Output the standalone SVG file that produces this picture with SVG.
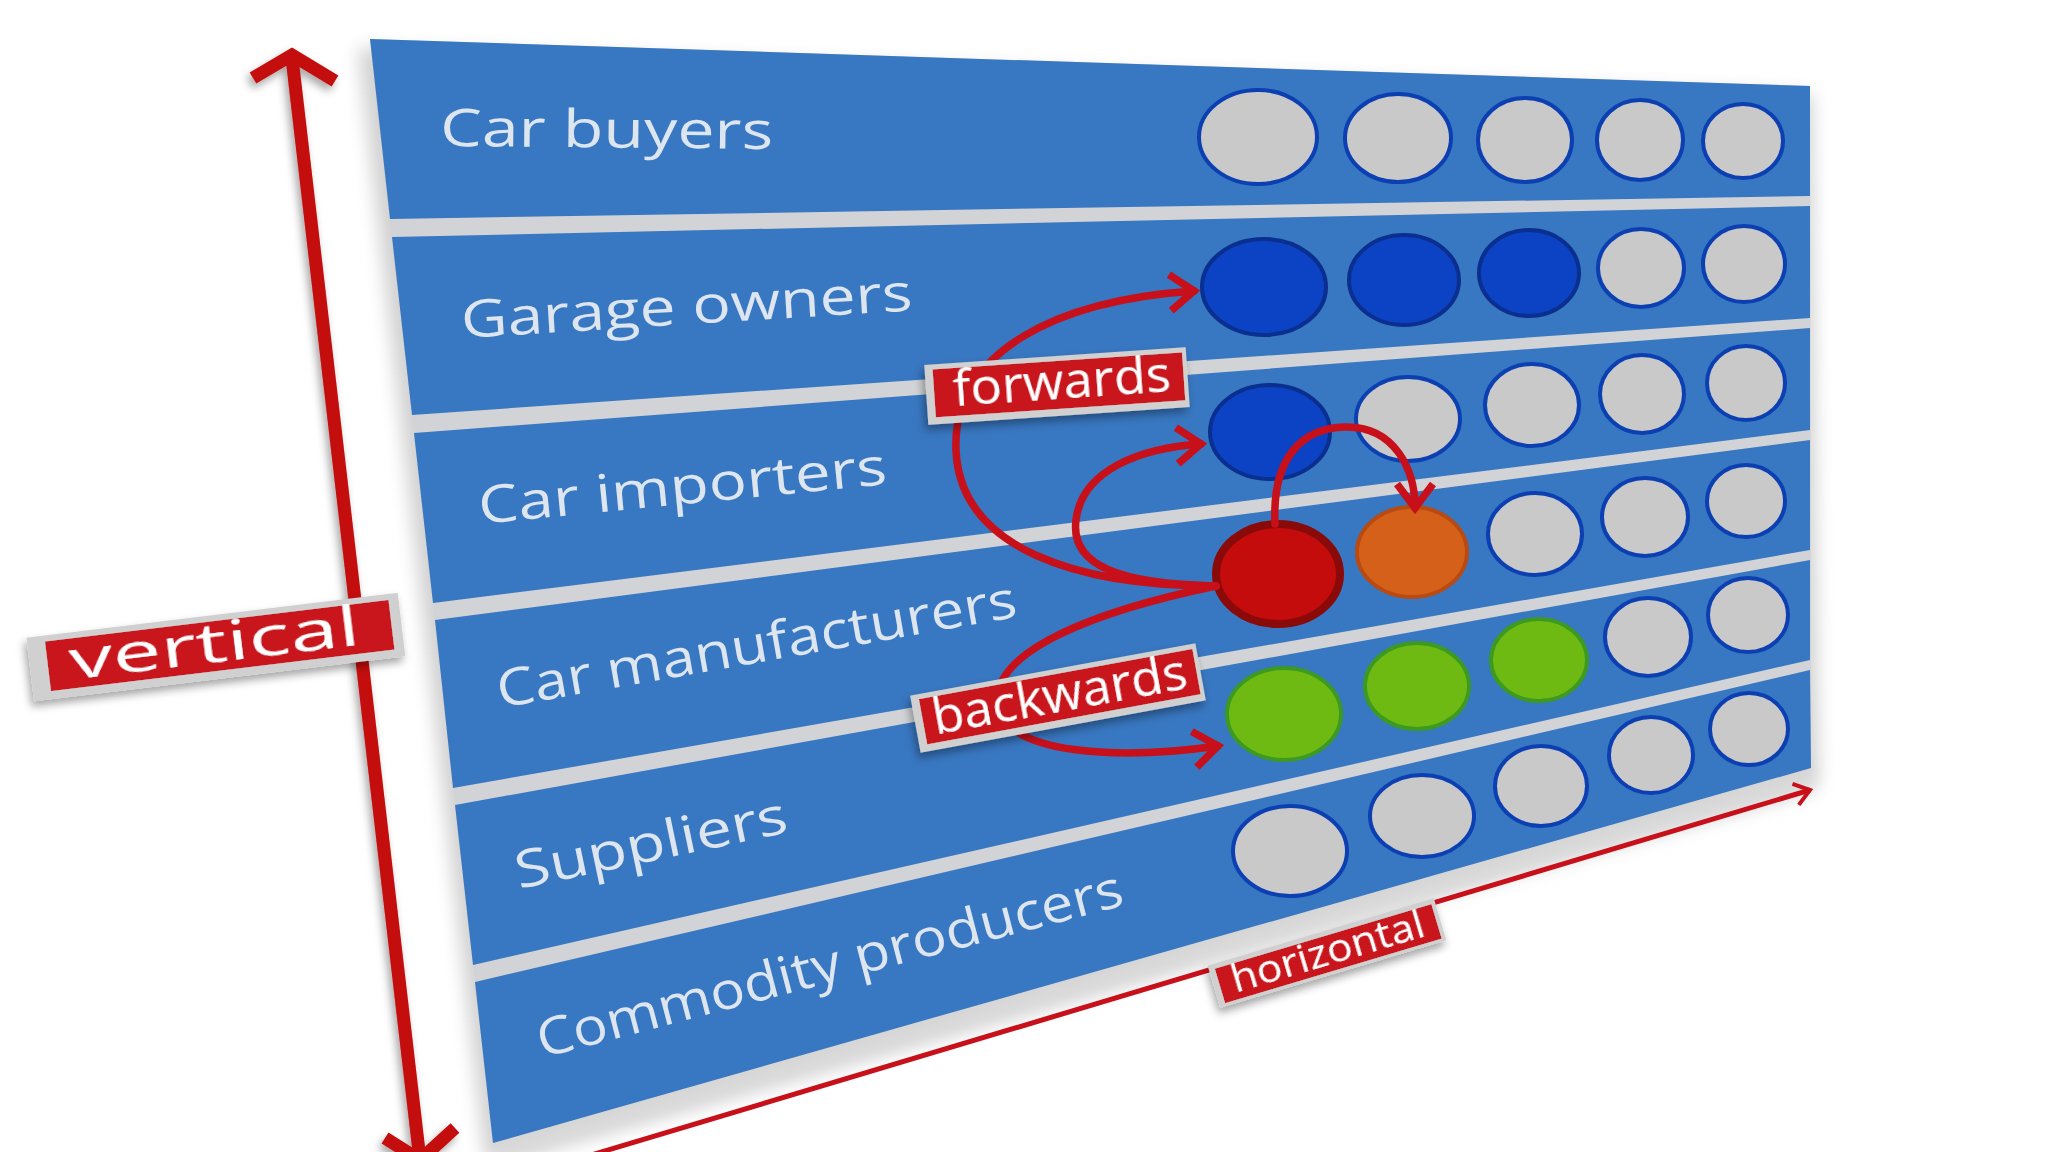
<svg xmlns="http://www.w3.org/2000/svg" width="2048" height="1152" viewBox="0 0 2048 1152">
<defs>
<style>
.panel{fill:#3877c1}
.lbl{font-family:"Open Sans","Noto Sans","Liberation Sans",sans-serif;font-size:52px;fill:#dde5ef}
.tag{font-family:"Open Sans","Noto Sans","Liberation Sans",sans-serif;font-weight:500;fill:#ffffff;text-anchor:middle}
.g{fill:#c9c9c9;stroke:#0b3fb2;stroke-width:4}
.b{fill:#0b43c4;stroke:#0a2f8e;stroke-width:4}
.gr{fill:#6fba12;stroke:#3c9a22;stroke-width:4}
.arc{fill:none;stroke:#c8101a;stroke-width:7.5;stroke-linecap:round;marker-end:url(#chev)}
.tagbox{fill:#d0d0d0}
.tagin{fill:#c8121c}
</style>
<marker id="chev" markerUnits="userSpaceOnUse" viewBox="-32 -24 38 48" refX="0" refY="0" markerWidth="38" markerHeight="48" orient="auto" overflow="visible">
<path d="M-24,-18 L0,0 L-24,18" fill="none" stroke="#c8101a" stroke-width="7.5"/>
</marker>
<marker id="chevS" markerUnits="userSpaceOnUse" viewBox="-20 -14 24 28" refX="0" refY="0" markerWidth="24" markerHeight="28" orient="auto" overflow="visible">
<path d="M-15,-11 L0,0 L-15,11" fill="none" stroke="#c8101a" stroke-width="4"/>
</marker>
<filter id="sh" x="-20%" y="-40%" width="140%" height="180%"><feDropShadow dx="-3" dy="5" stdDeviation="4" flood-color="#000" flood-opacity="0.35"/></filter>
<filter id="blur" x="-10%" y="-10%" width="120%" height="120%"><feGaussianBlur stdDeviation="9"/></filter>
</defs>
<rect width="2048" height="1152" fill="#ffffff"/>
<g id="board">
<polygon points="358,48 1812,94 1818,782 485,1160" fill="#000" opacity="0.18" filter="url(#blur)"/>
<polygon points="493,1143 1811,768 1815,790 498,1165" fill="#d8d8d8" filter="url(#blur)"/>
<polygon points="370,39 1810,86 1811,768 493,1143" fill="#d2d3d6"/>
</g>
<g id="row-car-buyers">
<polygon class="panel" points="370,39 1810,86 1810,196 390,219"/>
<text class="lbl" transform="translate(440,146) rotate(0.5)" textLength="333" lengthAdjust="spacingAndGlyphs">Car buyers</text>
<ellipse class="g" cx="1258" cy="137" rx="59" ry="47"/>
<ellipse class="g" cx="1398" cy="138" rx="53" ry="44"/>
<ellipse class="g" cx="1525" cy="140" rx="47" ry="42"/>
<ellipse class="g" cx="1640" cy="140" rx="43" ry="40"/>
<ellipse class="g" cx="1743" cy="141" rx="40" ry="37"/>
</g>
<g id="row-garage-owners">
<polygon class="panel" points="392,237 1810,206 1810,318 412,415"/>
<text class="lbl" transform="translate(462,338) rotate(-3.5)" textLength="452" lengthAdjust="spacingAndGlyphs">Garage owners</text>
<ellipse class="b" cx="1264" cy="287" rx="62" ry="48"/>
<ellipse class="b" cx="1404" cy="280" rx="55" ry="45"/>
<ellipse class="b" cx="1529" cy="273" rx="50" ry="43"/>
<ellipse class="g" cx="1641" cy="268" rx="43" ry="39"/>
<ellipse class="g" cx="1744" cy="264" rx="41" ry="38"/>
</g>
<g id="row-car-importers">
<polygon class="panel" points="414,433 1810,328 1810,430 433,603"/>
<text class="lbl" transform="translate(480,524) rotate(-5.6)" textLength="410" lengthAdjust="spacingAndGlyphs">Car importers</text>
<ellipse class="b" cx="1270" cy="432" rx="60" ry="47"/>
<ellipse class="g" cx="1408" cy="419" rx="52" ry="42"/>
<ellipse class="g" cx="1532" cy="405" rx="47" ry="41"/>
<ellipse class="g" cx="1642" cy="394" rx="42" ry="39"/>
<ellipse class="g" cx="1746" cy="383" rx="39" ry="37"/>
</g>
<g id="row-car-manufacturers">
<polygon class="panel" points="435,620 1810,440 1810,550 453,788"/>
<text class="lbl" transform="translate(500,708) rotate(-10)" textLength="527" lengthAdjust="spacingAndGlyphs">Car manufacturers</text>
<ellipse cx="1278" cy="574" rx="62" ry="50" fill="#c40c0c" stroke="#8a0a0a" stroke-width="8"/>
<ellipse cx="1412" cy="552" rx="55" ry="45" fill="#d4601a" stroke="#b84a12" stroke-width="4"/>
<ellipse class="g" cx="1535" cy="534" rx="47" ry="41"/>
<ellipse class="g" cx="1645" cy="517" rx="43" ry="39"/>
<ellipse class="g" cx="1746" cy="501" rx="39" ry="36"/>
</g>
<g id="row-suppliers">
<polygon class="panel" points="455,805 1810,560 1810,660 473,965"/>
<text class="lbl" transform="translate(519,889) rotate(-11.9)" textLength="277" lengthAdjust="spacingAndGlyphs">Suppliers</text>
<ellipse class="gr" cx="1284" cy="714" rx="57" ry="46"/>
<ellipse class="gr" cx="1417" cy="686" rx="52" ry="43"/>
<ellipse class="gr" cx="1539" cy="660" rx="48" ry="41"/>
<ellipse class="g" cx="1648" cy="637" rx="43" ry="39"/>
<ellipse class="g" cx="1748" cy="615" rx="40" ry="37"/>
</g>
<g id="row-commodity-producers">
<polygon class="panel" points="475,982 1810,670 1811,768 493,1143"/>
<text class="lbl" transform="translate(542,1058) rotate(-14.7)" textLength="604" lengthAdjust="spacingAndGlyphs">Commodity producers</text>
<ellipse class="g" cx="1290" cy="851" rx="57" ry="45"/>
<ellipse class="g" cx="1422" cy="816" rx="52" ry="41"/>
<ellipse class="g" cx="1541" cy="786" rx="46" ry="40"/>
<ellipse class="g" cx="1651" cy="755" rx="42" ry="38"/>
<ellipse class="g" cx="1749" cy="729" rx="39" ry="36"/>
</g>
<g id="connectors">
<path class="arc" d="M1216,586 C1080,586 960,550 956,450 C952,350 1060,300 1194,291"/>
<path class="arc" d="M1216,586 C1120,584 1070,566 1076,520 C1082,470 1140,448 1201,444"/>
<path class="arc" d="M1275,524 C1272,460 1300,428 1345,427 C1395,426 1415,470 1415,508"/>
<path class="arc" d="M1216,586 C1100,610 990,650 998,705 C1005,755 1120,760 1218,746"/>
<g filter="url(#sh)">
<path d="M292,58 L420,1160" fill="none" stroke="#c40a0a" stroke-width="13"/>
<path d="M253,78 L292,55 L335,81" fill="none" stroke="#c40a0a" stroke-width="13" stroke-linejoin="miter"/>
<path d="M385,1138 L420,1160 L455,1128" fill="none" stroke="#c40a0a" stroke-width="13" stroke-linejoin="miter"/>
</g>
<line x1="588" y1="1156" x2="1810" y2="790" stroke="#c8101a" stroke-width="5" marker-end="url(#chevS)"/>
</g>
<g id="label-forwards" transform="translate(1057,386) rotate(-3.9)" filter="url(#sh)">
<rect class="tagbox" x="-131" y="-30" width="262" height="60"/>
<rect class="tagin" x="-123" y="-25" width="250" height="48"/>
<text class="tag" x="5" y="13" font-size="50" textLength="218" lengthAdjust="spacingAndGlyphs">forwards</text>
</g>
<g id="label-backwards" transform="translate(1058,698) rotate(-10.4)" filter="url(#sh)">
<rect class="tagbox" x="-145" y="-29" width="290" height="58"/>
<rect class="tagin" x="-137" y="-24" width="278" height="46"/>
<text class="tag" x="2" y="14" font-size="50" textLength="258" lengthAdjust="spacingAndGlyphs">backwards</text>
</g>
<g id="label-vertical" transform="translate(216,648) rotate(-6.9)" filter="url(#sh)">
<rect class="tagbox" x="-187" y="-33" width="374" height="64"/>
<rect class="tagin" x="-169" y="-27" width="346" height="50"/>
<text class="tag" x="-1" y="14" font-size="54" textLength="292" lengthAdjust="spacingAndGlyphs">vertical</text>
</g>
<g id="label-horizontal" transform="translate(1327,953) rotate(-16.6)" filter="url(#sh)">
<rect class="tagbox" x="-118" y="-22" width="236" height="44"/>
<rect class="tagin" x="-112" y="-17" width="226" height="36"/>
<text class="tag" x="1" y="12" font-size="38" textLength="200" lengthAdjust="spacingAndGlyphs">horizontal</text>
</g>
</svg>
